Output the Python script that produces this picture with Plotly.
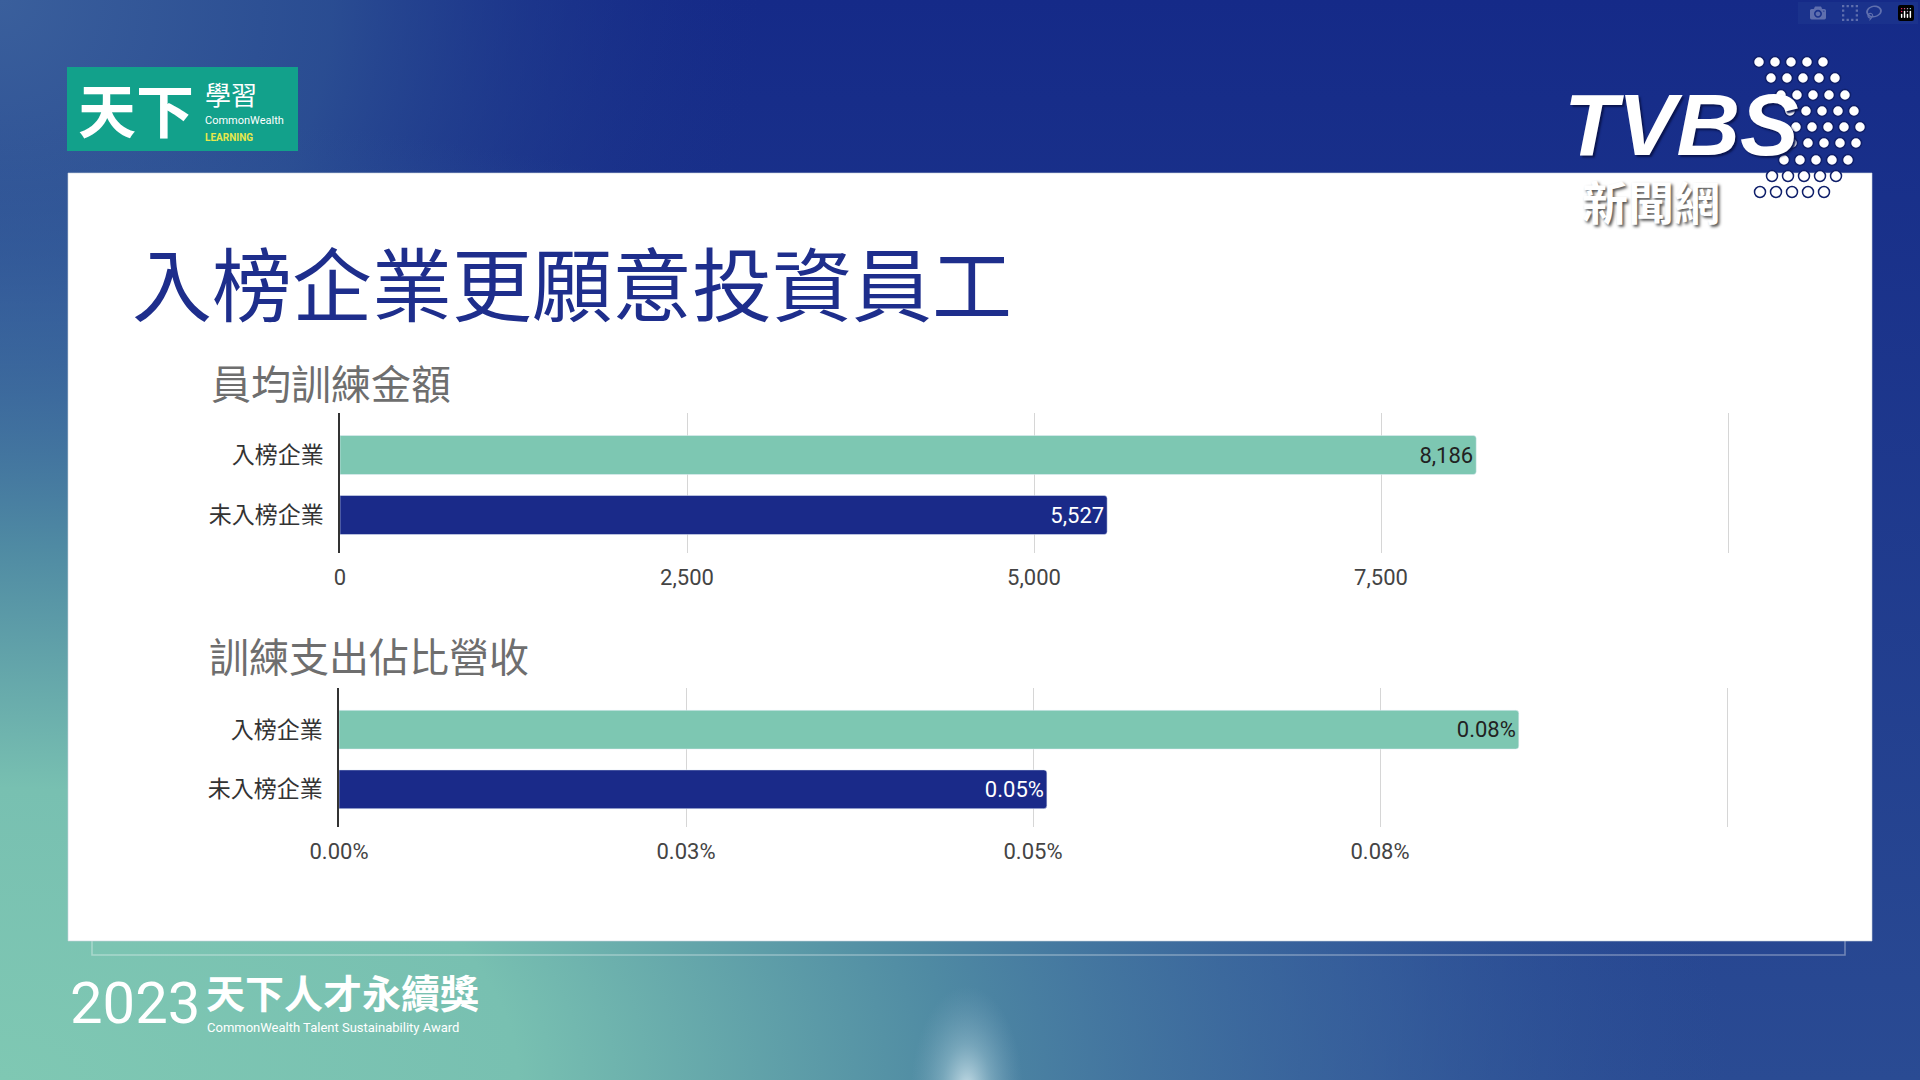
import base64
import plotly.graph_objects as go

# ---------------- data ----------------
categories = ["入榜企業", "未入榜企業"]
training_amount = [8186, 5527]
training_amount_labels = ["8,186", "5,527"]
training_ratio = [0.00085, 0.00051]
training_ratio_labels = ["0.08%", "0.05%"]
amount_ticks = [0, 2500, 5000, 7500, 10000]
amount_ticktext = ["0", "2,500", "5,000", "7,500", ""]
ratio_ticks = [0, 0.00025, 0.0005, 0.00075, 0.001]
ratio_ticktext = ["0.00%", "0.03%", "0.05%", "0.08%", ""]

title_text = "入榜企業更願意投資員工"
chart1_title = "員均訓練金額"
chart2_title = "訓練支出佔比營收"

bar_colors = ["#7dc7b2", "#1a2a89"]
label_colors = ["#222222", "#ffffff"]

W, H = 1920, 1080


def px(x):
    return x / W


def py(y):
    return 1 - y / H


# ---------------- background (svg gradient) ----------------
svg = f"""<svg xmlns='http://www.w3.org/2000/svg' width='{W}' height='{H}' viewBox='0 0 {W} {H}' preserveAspectRatio='none'>
<defs>
<linearGradient id='base' x1='0' y1='0' x2='0' y2='1'>
<stop offset='0' stop-color='#152a88'/>
<stop offset='1' stop-color='#2a4b93'/>
</linearGradient>
<radialGradient id='tl' gradientUnits='userSpaceOnUse' cx='0' cy='0' r='950'>
<stop offset='0' stop-color='#3a5f9c' stop-opacity='1'/>
<stop offset='0.35' stop-color='#2c5093' stop-opacity='0.9'/>
<stop offset='0.8' stop-color='#1a3189' stop-opacity='0'/>
</radialGradient>
<radialGradient id='teal' cx='0' cy='1' r='0.9'>
<stop offset='0' stop-color='#7fc8b3' stop-opacity='1'/>
<stop offset='0.3' stop-color='#78c0b1' stop-opacity='1'/>
<stop offset='0.55' stop-color='#4f8aa3' stop-opacity='1'/>
<stop offset='0.8' stop-color='#3d6aa0' stop-opacity='0.6'/>
<stop offset='1' stop-color='#2f5598' stop-opacity='0'/>
</radialGradient>
<radialGradient id='glow' gradientUnits='userSpaceOnUse' cx='967' cy='1090' r='80' gradientTransform='translate(967 1090) scale(0.7 1.3) translate(-967 -1090)'>
<stop offset='0' stop-color='#d5e8ef' stop-opacity='0.9'/>
<stop offset='0.45' stop-color='#a6c8d6' stop-opacity='0.45'/>
<stop offset='1' stop-color='#7fa8c0' stop-opacity='0'/>
</radialGradient>
</defs>
<rect x='0' y='0' width='{W}' height='{H}' fill='url(#base)'/>
<rect x='0' y='0' width='{W}' height='{H}' fill='url(#tl)'/>
<rect x='0' y='0' width='{W}' height='{H}' fill='url(#teal)'/>
<rect x='0' y='0' width='{W}' height='{H}' fill='url(#glow)'/>
</svg>"""
bg_uri = "data:image/svg+xml;base64," + base64.b64encode(svg.encode("utf-8")).decode("ascii")

# ---------------- traces ----------------
fig = go.Figure()
fig.add_trace(go.Bar(
    y=categories, x=training_amount, orientation="h",
    marker=dict(color=bar_colors, cornerradius=3),
    text=training_amount_labels, textposition="inside", insidetextanchor="end",
    textfont=dict(color=label_colors, size=22, family="Roboto"),
    width=0.65, xaxis="x", yaxis="y", hoverinfo="skip",
))
fig.add_trace(go.Bar(
    y=categories, x=training_ratio, orientation="h",
    marker=dict(color=bar_colors, cornerradius=3),
    text=training_ratio_labels, textposition="inside", insidetextanchor="end",
    textfont=dict(color=label_colors, size=22, family="Roboto"),
    width=0.65, xaxis="x2", yaxis="y2", hoverinfo="skip",
))

xcommon = dict(
    showgrid=True, gridcolor="#d6d6d6", gridwidth=1, zeroline=False, showline=False,
    ticks="", tickfont=dict(size=22, color="#444444", family="Roboto"),
    ticklabelstandoff=9, fixedrange=True, automargin=False,
)
ycommon = dict(
    type="category", showgrid=False, zeroline=False, showline=True,
    linecolor="#333333", linewidth=1.5, ticks="",
    tickfont=dict(size=23, color="#333333", family="Noto Sans CJK TC"),
    ticklabelstandoff=10, range=[1.633, -0.7], fixedrange=True, automargin=False,
)

# pixel scale: 2500 units = 347 px; extend range slightly so the last gridline shows
amt_max = 10050
rat_max = 0.001005
fig.update_layout(
    width=W, height=H, margin=dict(l=0, r=0, t=0, b=0, pad=0, autoexpand=False),
    showlegend=False,
    paper_bgcolor="#1f3a8f", plot_bgcolor="rgba(0,0,0,0)",
    xaxis=dict(domain=[px(340), px(340 + 1388 * amt_max / 10000)], range=[0, amt_max],
               tickvals=amount_ticks, ticktext=amount_ticktext, anchor="y", **xcommon),
    yaxis=dict(domain=[py(553), py(413)], anchor="x", **ycommon),
    xaxis2=dict(domain=[px(339), px(339 + 1388 * rat_max / 0.001)], range=[0, rat_max],
                tickvals=ratio_ticks, ticktext=ratio_ticktext, anchor="y2", **xcommon),
    yaxis2=dict(domain=[py(827), py(688)], anchor="x2", **ycommon),
    images=[dict(source=bg_uri, xref="paper", yref="paper", x=0, y=1,
                 sizex=1, sizey=1, sizing="stretch", layer="below",
                 xanchor="left", yanchor="top")],
)

shapes = []
# faint frame behind panel
shapes.append(dict(type="rect", xref="paper", yref="paper", x0=px(92), x1=px(1845),
                   y0=py(955), y1=py(900), fillcolor="rgba(0,0,0,0)",
                   line=dict(color="rgba(255,255,255,0.35)", width=1.5), layer="below"))
# white panel
shapes.append(dict(type="rect", xref="paper", yref="paper", x0=px(68), x1=px(1872),
                   y0=py(941), y1=py(173), fillcolor="#ffffff",
                   line=dict(color="rgba(200,210,220,0.6)", width=1), layer="below"))
# CommonWealth logo box
shapes.append(dict(type="rect", xref="paper", yref="paper", x0=px(67), x1=px(298),
                   y0=py(151), y1=py(67), fillcolor="#12a18b", line=dict(width=0)))
# TVBS dot pattern (decoration)
dot_rows = [(62, 1759, 5), (78, 1771, 5), (95, 1781, 5), (111, 1790, 5), (127, 1796, 5),
            (143, 1792, 5), (160, 1784, 5), (176, 1772, 5), (192, 1760, 5)]
for yy, xs, n in dot_rows:
    for k in range(n):
        cx = xs + k * 16
        shapes.append(dict(type="circle", xref="paper", yref="paper",
                           x0=px(cx - 5.5), x1=px(cx + 5.5), y0=py(yy + 5.5), y1=py(yy - 5.5),
                           fillcolor="#ffffff", line=dict(color="#0f1f6a", width=1.5)))
fig.update_layout(shapes=shapes)

annotations = [
    dict(text=title_text, x=px(130), y=py(280), xanchor="left", yanchor="middle",
         font=dict(size=80, color="#1e2e8c", family="Noto Sans CJK TC")),
    dict(text=chart1_title, x=px(209), y=py(382), xanchor="left", yanchor="middle",
         font=dict(size=40, color="#6e6e6e", family="Noto Sans CJK TC")),
    dict(text=chart2_title, x=px(207), y=py(655), xanchor="left", yanchor="middle",
         font=dict(size=40, color="#6e6e6e", family="Noto Sans CJK TC")),
    # CommonWealth logo
    dict(text="<b>天下</b>", x=px(76), y=py(108), xanchor="left", yanchor="middle",
         font=dict(size=58, color="#ffffff", family="Noto Sans CJK TC")),
    dict(text="學習", x=px(203), y=py(94), xanchor="left", yanchor="middle",
         font=dict(size=26, color="#ffffff", family="Noto Sans CJK TC")),
    dict(text="CommonWealth", x=px(203), y=py(120), xanchor="left", yanchor="middle",
         font=dict(size=11, color="#ffffff", family="Roboto")),
    dict(text="<b>LEARNING</b>", x=px(203), y=py(137), xanchor="left", yanchor="middle",
         font=dict(size=10, color="#e8e84a", family="Roboto")),
    # TVBS logo
    dict(text="<b><i>TVBS</i></b>", x=px(1562), y=py(125), xanchor="left", yanchor="middle",
         font=dict(size=88, color="#ffffff", family="Liberation Sans",
                   shadow="2px 2px 2px #0a1550")),
    dict(text="<b>新聞網</b>", x=px(1580), y=py(200), xanchor="left", yanchor="middle",
         font=dict(size=46, color="#ffffff", family="Noto Sans CJK TC",
                   shadow="2px 2px 3px #555555")),
    # footer
    dict(text="2023", x=px(68), y=py(1003), xanchor="left", yanchor="middle",
         font=dict(size=58, color="#ffffff", family="Roboto")),
    dict(text="<b>天下人才永續獎</b>", x=px(204), y=py(991), xanchor="left", yanchor="middle",
         font=dict(size=39, color="#ffffff", family="Noto Sans CJK TC")),
    dict(text="CommonWealth Talent Sustainability Award", x=px(205), y=py(1027),
         xanchor="left", yanchor="middle",
         font=dict(size=13, color="#ffffff", family="Roboto")),
]
for a in annotations:
    a.update(xref="paper", yref="paper", showarrow=False)
fig.update_layout(annotations=annotations)

fig.write_html("out.html", post_script="document.body.style.margin='0';document.body.style.overflow='hidden';")
